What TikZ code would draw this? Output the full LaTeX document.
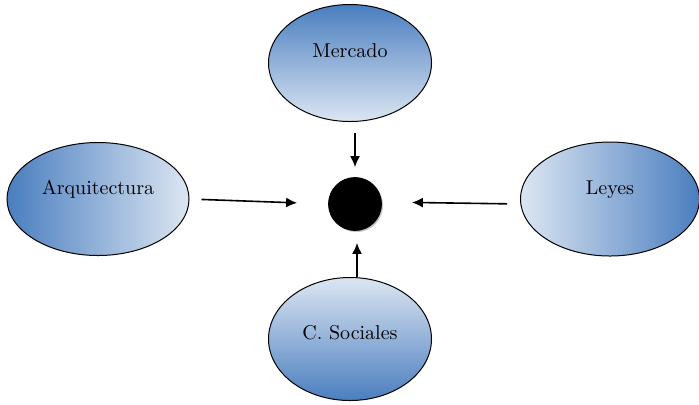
\documentclass[tikz,border=0pt]{standalone}
\usetikzlibrary{shapes.geometric,arrows.meta,shadows}
\definecolor{azul}{HTML}{4A7EBF}
\definecolor{celeste}{HTML}{DCE6F2}
\tikzset{
  campo/.style={ellipse,draw=black,line width=0.5pt,inner sep=0pt},
  flecha/.style={line width=0.8pt,-{Latex[length=5.5pt,width=5pt]}}
}
\begin{document}
\begin{tikzpicture}[x=0.5pt,y=-0.5pt]
\useasboundingbox (0,0) rectangle (699,404);

\node [campo,minimum width=81.5pt,minimum height=58.5pt,top color=azul,bottom color=celeste,text height=7pt,text depth=13pt] (mercado) at (350,63) {Mercado};
\node [campo,minimum width=91pt,minimum height=56.5pt,left color=azul,right color=celeste,text height=7pt,text depth=12pt] (arq) at (98,199) {Arquitectura};
\node [campo,minimum width=89.5pt,minimum height=57pt,left color=celeste,right color=azul,text height=7pt,text depth=12pt] (leyes) at (610,199) {Leyes};
\node [campo,minimum width=81.5pt,minimum height=61.5pt,top color=celeste,bottom color=azul,text height=7pt,text depth=7pt] (soc) at (350,339) {C. Sociales};

\node [circle,fill=black,draw=black,minimum size=26.5pt,inner sep=0pt,drop shadow={shadow xshift=0.8pt,shadow yshift=-0.8pt,fill=gray!45,opacity=1}] (nucleo) at (355,204) {};

\draw [flecha,shorten <=5.5pt,shorten >=5pt] (nucleo.north |- mercado.south) -- (nucleo.north);
\draw [flecha,shorten <=6pt,shorten >=15.5pt] (arq.east) -- (nucleo.west);
\draw [flecha,shorten <=6.5pt,shorten >=15pt] ([yshift=-2.5pt]leyes.west) -- ([yshift=1pt]nucleo.east);
\draw [flecha,shorten >=6pt] ([xshift=1pt]nucleo.south |- soc.north) -- ([xshift=1pt]nucleo.south);

\end{tikzpicture}
\end{document}
